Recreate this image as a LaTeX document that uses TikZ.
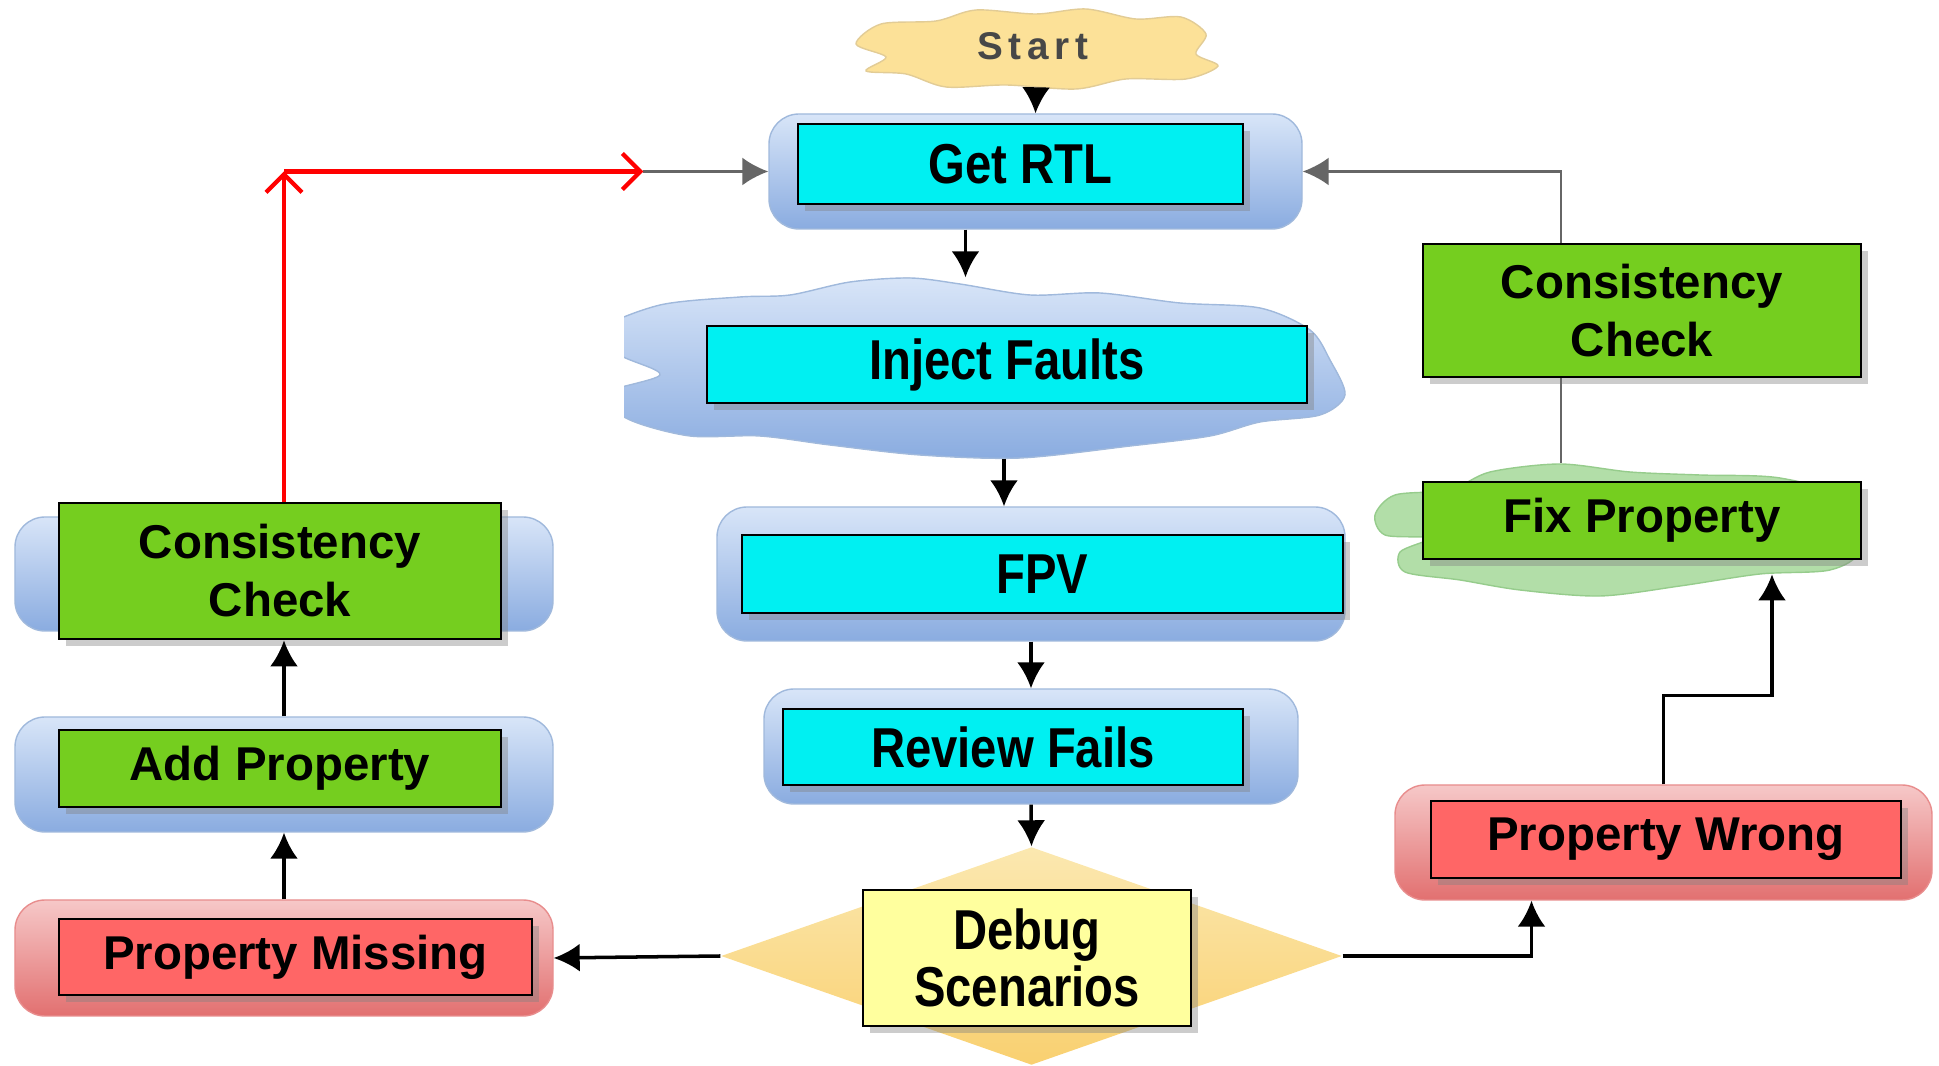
\documentclass[tikz,border=0pt]{standalone}
\usepackage{fontspec}
\setmainfont{Liberation Sans}
\newfontfamily\narrowfont[FakeStretch=0.84]{Liberation Sans}
\newfontfamily\startfont[LetterSpace=15]{Liberation Sans}
\usetikzlibrary{shapes.geometric,arrows.meta,shadows,calc,positioning}
\newcommand{\widefont}{\bfseries\fontsize{13.5}{16.5}\selectfont}
\newcommand{\cyanfont}{\narrowfont\bfseries\fontsize{16}{16.3}\selectfont}
\definecolor{boxcyan}{RGB}{0,240,242}
\definecolor{boxgreen}{RGB}{117,206,31}
\definecolor{boxred}{RGB}{255,102,102}
\definecolor{boxyellow}{RGB}{255,255,158}
\definecolor{bgbluetop}{RGB}{216,229,248}
\definecolor{bgbluebot}{RGB}{138,172,224}
\definecolor{bgblueedge}{RGB}{160,185,220}
\definecolor{bgredtop}{RGB}{246,200,200}
\definecolor{bgredbot}{RGB}{226,112,112}
\definecolor{startfill}{RGB}{252,225,152}
\definecolor{startedge}{RGB}{226,204,150}
\definecolor{fixfill}{RGB}{178,222,168}
\definecolor{fixedge}{RGB}{150,204,140}
\definecolor{diamtop}{RGB}{251,232,176}
\definecolor{diambot}{RGB}{249,208,112}

\begin{document}
\begin{tikzpicture}[font=\widefont,
  labelbox/.style={draw=black, line width=0.8pt, align=center, inner sep=0pt,
    drop shadow={shadow xshift=0.7mm, shadow yshift=-0.7mm, opacity=0.4}},
  cyanbox/.style={labelbox, fill=boxcyan, font=\cyanfont},
  greenbox/.style={labelbox, fill=boxgreen},
  redbox/.style={labelbox, fill=boxred},
  yellowbox/.style={labelbox, fill=boxyellow, font=\cyanfont},
  bluebg/.style={rounded corners=3mm, draw=bgblueedge, top color=bgbluetop, bottom color=bgbluebot},
  redbg/.style={rounded corners=3mm, draw=bgredbot!80, top color=bgredtop, bottom color=bgredbot},
  cloudarea/.style={ellipse, inner sep=0pt},
  flowarrow/.style={-{Latex[length=2.6mm,width=2.8mm]}, line width=1pt, black},
  backflow/.style={-{Latex[length=2.6mm,width=2.8mm]}, line width=0.7pt, black!60},
  redline/.style={-{Straight Barb[length=1.8mm,width=3.6mm]}, line width=1.2pt, red}]
\useasboundingbox (0,0) rectangle (19.39,-10.66);

\node[cloudarea, minimum width=3.65cm, minimum height=0.8cm] (start) at (10.36,-0.49) {};
\filldraw[fill=startfill, draw=startedge, shift={(start.center)}] plot[smooth cycle] coordinates {
  (-1.8,0.05) (-1.55,0.25) (-1.0,0.28) (-0.6,0.39) (0,0.35) (0.5,0.4) (1.0,0.3) (1.45,0.32)
  (1.7,0.15) (1.6,-0.05) (1.82,-0.17) (1.5,-0.3) (0.9,-0.3) (0.4,-0.4) (-0.3,-0.36)
  (-0.9,-0.38) (-1.3,-0.25) (-1.7,-0.22) (-1.5,-0.08)};
\node[text=black!72, font=\startfont\bfseries\fontsize{11}{13}\selectfont] (starttext) at (10.33,-0.46) {Start};

\node[bluebg, minimum width=5.33cm, minimum height=1.15cm] (rtlbg) at (10.355,-1.715) {};
\node[cyanbox, minimum width=4.45cm, minimum height=0.8cm] (rtl) at (10.205,-1.64) {Get RTL};

\node[cloudarea, minimum width=7.4cm, minimum height=1.8cm] (injcloud) at (9.75,-3.68) {};
\begin{scope}
\clip (6.24,-2.5) rectangle (14,-5);
\filldraw[draw=bgblueedge, top color=bgbluetop, bottom color=bgbluebot] plot[smooth cycle] coordinates {
  (6.0,-3.3) (6.6,-3.05) (7.4,-2.97) (7.9,-2.95) (8.5,-2.82) (9.1,-2.78) (9.6,-2.84) (10.3,-2.95)
  (11.0,-2.93) (11.8,-3.03) (12.6,-3.08) (13.1,-3.3) (13.3,-3.6) (13.45,-3.95) (13.2,-4.15)
  (12.6,-4.22) (12.1,-4.36) (11.3,-4.46) (10.2,-4.58) (9.2,-4.55) (8.3,-4.45) (7.6,-4.36)
  (6.9,-4.36) (6.3,-4.2) (6.0,-3.95) (6.6,-3.75) (6.2,-3.55)};
\end{scope}
\node[cyanbox, minimum width=6.0cm, minimum height=0.77cm] (inj) at (10.07,-3.645) {Inject Faults};

\node[bluebg, minimum width=6.28cm, minimum height=1.34cm] (fpvbg) at (10.31,-5.74) {};
\node[cyanbox, minimum width=6.01cm, minimum height=0.78cm] (fpv) at (10.425,-5.74) {FPV};

\node[bluebg, minimum width=5.34cm, minimum height=1.15cm] (revbg) at (10.31,-7.465) {};
\node[cyanbox, minimum width=4.6cm, minimum height=0.76cm] (rev) at (10.13,-7.47) {Review Fails};

\node[diamond, top color=diamtop, bottom color=diambot, inner sep=0pt, minimum width=6.21cm, minimum height=2.18cm] (debugd) at (10.315,-9.56) {};
\node[yellowbox, minimum width=3.28cm, minimum height=1.36cm] (debug) at (10.27,-9.58) {Debug\\Scenarios};

\node[redbg, minimum width=5.38cm, minimum height=1.16cm] (pmbg) at (2.84,-9.58) {};
\node[redbox, minimum width=4.73cm, minimum height=0.76cm] (pm) at (2.955,-9.57) {Property Missing};

\node[bluebg, minimum width=5.38cm, minimum height=1.15cm] (addbg) at (2.84,-7.745) {};
\node[greenbox, minimum width=4.42cm, minimum height=0.77cm] (add) at (2.80,-7.685) {Add Property};

\node[bluebg, minimum width=5.38cm, minimum height=1.14cm] (leftccbg) at (2.84,-5.74) {};
\node[greenbox, minimum width=4.42cm, minimum height=1.36cm] (leftcc) at (2.80,-5.71) {Consistency\\Check};

\node[redbg, minimum width=5.37cm, minimum height=1.15cm] (pwbg) at (16.635,-8.425) {};
\node[redbox, minimum width=4.70cm, minimum height=0.77cm] (pw) at (16.66,-8.395) {Property Wrong};

\node[cloudarea, minimum width=4.9cm, minimum height=1.32cm] (fixcloud) at (16.1,-5.3) {};
\filldraw[fill=fixfill, draw=fixedge] plot[smooth cycle] coordinates {
  (13.75,-5.15) (13.95,-4.95) (14.5,-4.9) (14.9,-4.72) (15.6,-4.64) (16.3,-4.72) (17.0,-4.75)
  (17.8,-4.78) (18.5,-5.0) (18.6,-5.5) (18.3,-5.7) (17.6,-5.74) (16.8,-5.86) (16.0,-5.96)
  (15.2,-5.9) (14.6,-5.8) (14.05,-5.72) (14.0,-5.52) (14.3,-5.38) (13.85,-5.35)};
\node[greenbox, minimum width=4.38cm, minimum height=0.77cm] (fix) at (16.42,-5.205) {Fix Property};

\node[greenbox, minimum width=4.38cm, minimum height=1.33cm] (rightcc) at (16.42,-3.105) {Consistency\\Check};

\draw[flowarrow] (start.south) -- (rtlbg.north);
\draw[flowarrow] ([xshift=-7mm]rtlbg.south) -- ([xshift=-7mm]rtlbg.south |- injcloud.north);
\draw[flowarrow] ([xshift=-2.7mm]fpvbg.north |- injcloud.south) -- ([xshift=-2.7mm]fpvbg.north);
\draw[flowarrow] (fpvbg.south) -- (revbg.north);
\draw[flowarrow] (revbg.south) -- (debugd.north);
\draw[flowarrow] (debugd.west) -- (pmbg.east);
\draw[flowarrow] (pmbg.north) -- (addbg.south);
\draw[flowarrow] (addbg.north) -- (addbg.north |- leftcc.south);
\draw[flowarrow] (debugd.east) -| ([xshift=-13.2mm]pwbg.south);
\draw[flowarrow] (pwbg.north) -- ++(0,0.89) -| ([xshift=13mm,yshift=-1.4mm]fix.south);

\draw[black!60, line width=0.7pt] ([xshift=-8.1mm]rightcc.south) -- ([xshift=-8.1mm]rightcc.south |- fixcloud.north);
\draw[backflow] ([xshift=-8.1mm]rightcc.north) |- (rtlbg.east);

\coordinate (redtip) at ([xshift=-12.5mm]rtlbg.west);
\coordinate (redcorner) at ([xshift=0.4mm]leftcc.north |- redtip);
\draw[backflow] (redtip) -- (rtlbg.west);
\draw[redline] ([xshift=0.4mm]leftcc.north) -- (redcorner);
\draw[redline] (redcorner) -- (redtip);
\end{tikzpicture}
\end{document}
